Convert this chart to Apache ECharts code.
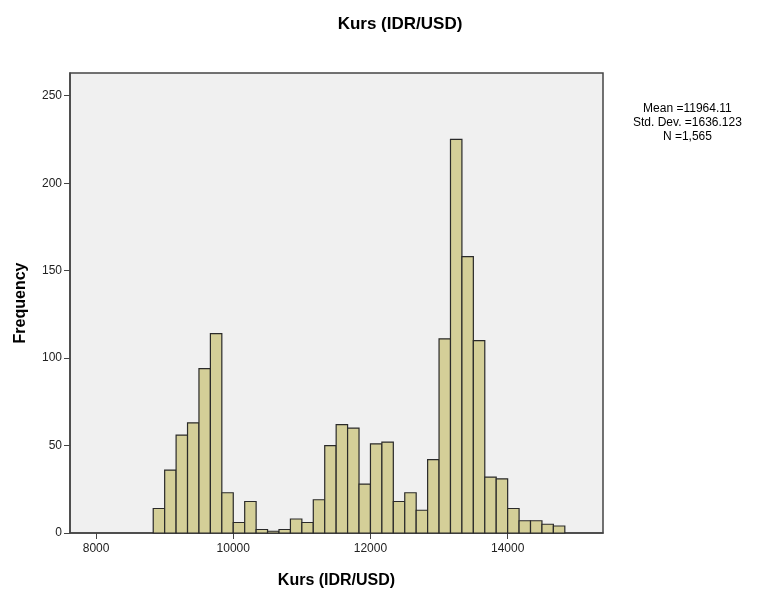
<!DOCTYPE html>
<html>
<head>
<meta charset="utf-8">
<script src="https://cdn.jsdelivr.net/npm/echarts@6/dist/echarts.min.js"></script>
<style>
html,body{margin:0;padding:0;background:#fff;}
#chart{width:767px;height:597px;}
</style>
</head>
<body>
<div id="chart"></div>
<script>
// Histogram bins (lower edge of first bin and bin width, in IDR/USD)
const binStart = 8833.33;
const binWidth = 166.667;
const frequencies = [14,36,56,63,94,114,23,6,18,2,1,2,8,6,19,50,62,60,28,51,52,18,23,13,42,111,225,158,110,32,31,14,7,7,5,4];
const xTicks = [8000,10000,12000,14000];
const yTicks = [0,50,100,150,200,250];
const statsLines = ['Mean =11964.11','Std. Dev. =1636.123','N =1,565'];

const data = frequencies.map((f,i)=>[binStart + i*binWidth, binStart + (i+1)*binWidth, f]);

const chart = echarts.init(document.getElementById('chart'), null, {renderer:'canvas'});
const FONT = 'Liberation Sans, Arial, sans-serif';
chart.setOption({
  animation:false,
  backgroundColor:'#fff',
  title:{
    text:'Kurs (IDR/USD)',
    left:395, top:11, textAlign:'center',
    textStyle:{fontFamily:FONT,fontSize:17,fontWeight:'bold',color:'#000'}
  },
  graphic:[{
    type:'text', left:633, top:102,
    style:{
      text:statsLines.join('\n'), textAlign:'center', x:61,
      font:'12px Liberation Sans, Arial, sans-serif', fill:'#000', lineHeight:14
    }
  }],
  grid:{left:70,right:164,top:73,bottom:64,show:true,backgroundColor:'#F0F0F0',borderColor:'#444',borderWidth:1.5},
  xAxis:{
    type:'value', min:7620, max:15390,
    name:'Kurs (IDR/USD)', nameLocation:'middle', nameGap:40,
    nameTextStyle:{fontFamily:FONT,fontSize:16,fontWeight:'bold',color:'#000'},
    splitLine:{show:false},
    axisLine:{show:true,lineStyle:{color:'#444',width:1.5}},
    axisTick:{show:true,customValues:xTicks,length:6,inside:false,lineStyle:{color:'#444'}},
    axisLabel:{customValues:xTicks,formatter:v=>String(v),fontFamily:FONT,fontSize:12,color:'#222',margin:10}
  },
  yAxis:{
    type:'value', min:0, max:263,
    name:'Frequency', nameLocation:'middle', nameGap:41, nameRotate:90,
    nameTextStyle:{fontFamily:FONT,fontSize:16,fontWeight:'bold',color:'#000'},
    splitLine:{show:false},
    axisLine:{show:true,lineStyle:{color:'#444',width:1.5}},
    axisTick:{show:true,customValues:yTicks,length:6,lineStyle:{color:'#444'}},
    axisLabel:{customValues:yTicks,fontFamily:FONT,fontSize:12,color:'#222',margin:8}
  },
  series:[{
    type:'custom',
    renderItem:function(params, api){
      const p0 = api.coord([api.value(0), 0]);
      const p1 = api.coord([api.value(1), api.value(2)]);
      return {
        type:'rect',
        shape:{x:p0[0], y:p1[1], width:p1[0]-p0[0], height:p0[1]-p1[1]},
        style:{fill:'#D4CF98', stroke:'#2a2a2a', lineWidth:1.2}
      };
    },
    encode:{x:[0,1], y:2},
    data:data
  }]
});
</script>
</body>
</html>
